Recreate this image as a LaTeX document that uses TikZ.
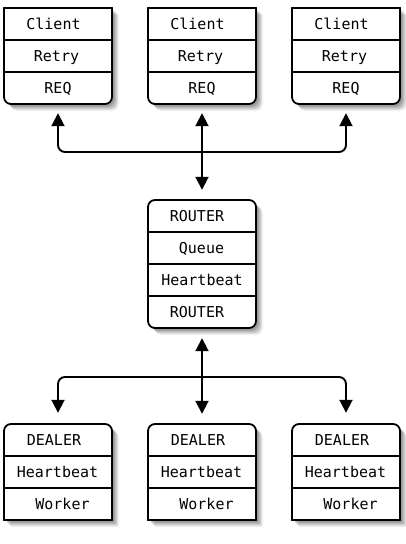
\documentclass[tikz,border=0pt]{standalone}
\usepackage{fontspec}
\setmonofont{DejaVu Sans Mono}
\usetikzlibrary{arrows.meta}
\tikzset{
 boxst/.style={draw=black, fill=white, line width=1.8pt},
 sepst/.style={draw=black, line width=1.4pt},
 txt/.style={font=\ttfamily\fontsize{15}{18}\selectfont, inner sep=0pt, anchor=base},
 conn/.style={line width=1.9pt, rounded corners=7pt, {Triangle[width=13pt,length=13pt]}-{Triangle[width=13pt,length=13pt]}},
 frame/.style={inner sep=0pt, draw=none},
}
% x1 y1 x2 y2 rTL rTR rBR rBL
\newcommand\rbox[8]{%
 \foreach \s/\o in {2/0.09,3/0.09,4/0.09,5/0.08,6/0.07,7/0.05}{%
  \fill[black, opacity=\o, shift={(\s,\s)}] (#1+#5,#2) -- (#3-#6,#2) .. controls (#3-0.448*#6,#2) and (#3,#2+0.448*#6) .. (#3,#2+#6) -- (#3,#4-#7) .. controls (#3,#4-0.448*#7) and (#3-0.448*#7,#4) .. (#3-#7,#4) -- (#1+#8,#4) .. controls (#1+0.448*#8,#4) and (#1,#4-0.448*#8) .. (#1,#4-#8) -- (#1,#2+#5) .. controls (#1,#2+0.448*#5) and (#1+0.448*#5,#2) .. (#1+#5,#2) -- cycle;}
 \filldraw[boxst] (#1+#5,#2) -- (#3-#6,#2) .. controls (#3-0.448*#6,#2) and (#3,#2+0.448*#6) .. (#3,#2+#6) -- (#3,#4-#7) .. controls (#3,#4-0.448*#7) and (#3-0.448*#7,#4) .. (#3-#7,#4) -- (#1+#8,#4) .. controls (#1+0.448*#8,#4) and (#1,#4-0.448*#8) .. (#1,#4-#8) -- (#1,#2+#5) .. controls (#1,#2+0.448*#5) and (#1+0.448*#5,#2) .. (#1+#5,#2) -- cycle;}
\begin{document}
\begin{tikzpicture}[x=1pt,y=-1pt]
\useasboundingbox[fill=white] (0,0) rectangle (405,544);
% ---- client boxes
\foreach \cx/\nm in {58/c1,202/c2,346/c3}{
 \rbox{\cx-54}{8}{\cx+54}{104}{0.01}{0.01}{7}{7}
 \draw[sepst] (\cx-54,40) -- (\cx+54,40);
 \draw[sepst] (\cx-54,72) -- (\cx+54,72);
 \node[frame, minimum width=108pt, minimum height=96pt] (\nm) at (\cx,56) {};
 \node[txt] (\nm a) at (\cx-4.5,29.5) {Client};
 \node[txt] (\nm b) at (\cx-1.5,61.5) {Retry};
 \node[txt] (\nm c) at (\cx,93.5) {REQ};
}
% ---- router
\rbox{148}{200}{256}{328}{7}{7}{7}{7}
\draw[sepst] (148,232) -- (256,232);
\draw[sepst] (148,264) -- (256,264);
\draw[sepst] (148,296) -- (256,296);
\node[frame, minimum width=108pt, minimum height=128pt] (r) at (202,264) {};
\node[txt] (ra) at (197,221.5) {ROUTER};
\node[txt] (rb) at (201.5,253.5) {Queue};
\node[txt] (rc) at (202,285.5) {Heartbeat};
\node[txt] (rd) at (197,317.5) {ROUTER};
% ---- worker boxes
\foreach \cx/\nm in {58/d1,202/d2,346/d3}{
 \rbox{\cx-54}{424}{\cx+54}{520}{7}{7}{0.01}{0.01}
 \draw[sepst] (\cx-54,456) -- (\cx+54,456);
 \draw[sepst] (\cx-54,488) -- (\cx+54,488);
 \node[frame, minimum width=108pt, minimum height=96pt] (\nm) at (\cx,472) {};
 \node[txt] (\nm a) at (\cx-4,445.5) {DEALER};
 \node[txt] (\nm b) at (\cx-0.5,477.5) {Heartbeat};
 \node[txt] (\nm c) at (\cx+4.5,509.5) {Worker};
}
% ---- connectors
\coordinate (j1) at (202,152);
\coordinate (j2) at (202,377);
\draw[conn, shorten <=9pt, shorten >=9pt] (c1.south) |- (j1) -| (c3.south);
\draw[conn, shorten <=9pt, shorten >=10pt] (c2.south) -- (r.north);
\draw[conn, shorten <=10pt, shorten >=10pt] (r.south) -- (d2.north);
\draw[conn, shorten <=11pt, shorten >=11pt] (d1.north) |- (j2) -| (d3.north);
\end{tikzpicture}
\end{document}
